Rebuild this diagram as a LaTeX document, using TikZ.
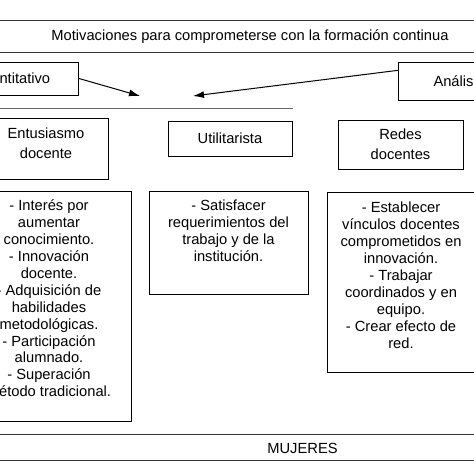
\documentclass[tikz,border=0pt]{standalone}
\usepackage{fontspec}
\setmainfont{Liberation Sans}
\usetikzlibrary{arrows.meta}

\tikzset{
	caja/.style = {draw, line width=1pt, inner sep=0pt},
	cabeza/.style = {align=center, font=\fontsize{14.7}{20}\selectfont},
	flecha/.style = {line width=1pt, -{Latex[length=11pt,width=7pt]}},
	raya/.style = {line width=1pt, black!80},
}
% caja con el texto arriba: alto, ancho, margen superior, texto
\newcommand{\lista}[4]{\parbox[c][#1][t]{#2}{\vspace*{#3}\centering\strut#4}}

\begin{document}
\begin{tikzpicture}[x=1pt, y=-1pt, font=\fontsize{14.7}{16.9}\selectfont]
	\useasboundingbox (0,0) rectangle (474,474);
	\clip (0,0) rectangle (474,474);
	% encabezado
	\draw [raya] (0,20) -- (474,20);
	\draw [raya] (0,52) -- (474,52);
	\node (titulo) at (250,36.5) {Motivaciones para comprometerse con la formación continua};
	% cajas cortadas y flechas
	\node [caja, anchor=east, minimum height=33, text width=119, align=left] (cuan) at (79,78.5) {\hspace*{40pt}ntitativo};
	\node [caja, anchor=west, minimum height=38, text width=120, align=left] (ana) at (398,81) {\hspace*{35pt}Anális};
	\coordinate (punta1) at (140,96);
	\coordinate (punta2) at (193,96);
	\draw [flecha] (cuan.east) -- (punta1);
	\draw [flecha] (ana.170) -- (punta2);
	\draw [line width=1pt, black!60] (0,108) -- (293,108);
	% tipos de motivacion
	\node [caja, cabeza] (entu) at (46,148.5) {\lista{61pt}{124pt}{6pt}{Entusiasmo\\docente}};
	\node [caja, minimum width=124, minimum height=35] (util) at (230,138.5) {Utilitarista};
	\node [caja, cabeza, minimum width=125, minimum height=49] (redes) at (400.5,144.5) {Redes\\docentes};
	% listas
	\node [caja] (lista1) at (49,306) {\lista{230pt}{164pt}{8pt}{- Interés por\\aumentar\\conocimiento.\\- Innovación\\docente.\\- Adquisición de\\habilidades\\metodológicas.\\- Participación\\alumnado.\\- Superación\\método tradicional.}};
	\node [caja] (lista2) at (228.5,242.5) {\lista{103pt}{159pt}{8pt}{- Satisfacer\\requerimientos del\\trabajo y de la\\institución.}};
	\node [caja] (lista3) at (401,282) {\lista{180pt}{148pt}{9pt}{- Establecer\\vínculos docentes\\comprometidos en\\innovación.\\- Trabajar\\coordinados y en\\equipo.\\- Crear efecto de\\red.}};
	% pie
	\draw [raya] (0,434) -- (474,434);
	\draw [raya] (0,460) -- (474,460);
	\node (mujeres) at (302.5,448) {MUJERES};
\end{tikzpicture}
\end{document}
